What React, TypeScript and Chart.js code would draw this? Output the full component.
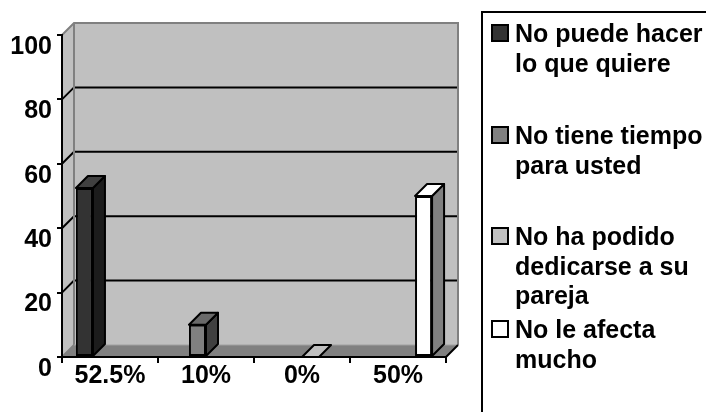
import React, { useEffect, useRef } from "react";
import { Chart, registerables } from "chart.js";

Chart.register(...registerables);

// Category labels along the x axis
const categories = ["52.5%", "10%", "0%", "50%"];

// Legend entries, already broken into lines
const seriesNames: string[][] = [
  ["No puede hacer", "lo que quiere"],
  ["No tiene tiempo", "para usted"],
  ["No ha podido", "dedicarse a su", "pareja"],
  ["No le afecta", "mucho"],
];

// One value per series, each in its own category slot
const seriesA = [52.5, null, null, null];
const seriesB = [null, 10, null, null];
const seriesC = [null, null, 0, null];
const seriesD = [null, null, null, 50];

// Value axis
const yMin = 0;
const yMax = 100;
const yStep = 20;

const FONT = "'Liberation Sans', Arial, Helvetica, sans-serif";
const DX = 12;
const DY = -12;

const faceColors = [
  { front: "#333333", top: "#404040", side: "#1c1c1c" },
  { front: "#808080", top: "#6a6a6a", side: "#404040" },
  { front: "#c0c0c0", top: "#c0c0c0", side: "#808080" },
  { front: "#ffffff", top: "#ffffff", side: "#808080" },
];

type Pt = [number, number];

function poly(ctx: CanvasRenderingContext2D, pts: Pt[], fill?: string, stroke?: string, lw = 2) {
  ctx.beginPath();
  ctx.moveTo(pts[0][0], pts[0][1]);
  for (let i = 1; i < pts.length; i++) ctx.lineTo(pts[i][0], pts[i][1]);
  ctx.closePath();
  if (fill) {
    ctx.fillStyle = fill;
    ctx.fill();
  }
  if (stroke) {
    ctx.strokeStyle = stroke;
    ctx.lineWidth = lw;
    ctx.lineJoin = "round";
    ctx.stroke();
  }
}

function seg(ctx: CanvasRenderingContext2D, pts: Pt[], color: string, lw = 2) {
  ctx.beginPath();
  ctx.moveTo(pts[0][0], pts[0][1]);
  for (let i = 1; i < pts.length; i++) ctx.lineTo(pts[i][0], pts[i][1]);
  ctx.strokeStyle = color;
  ctx.lineWidth = lw;
  ctx.lineJoin = "miter";
  ctx.stroke();
}

// Back wall, side wall, floor and the receding grid lines
const wallsPlugin = {
  id: "walls3d",
  beforeDraw(chart: any) {
    const { ctx, chartArea: a, scales } = chart;
    const ys = scales.y;
    ctx.save();
    // side wall
    poly(ctx, [[a.left, a.top], [a.left + DX, a.top + DY], [a.left + DX, a.bottom + DY], [a.left, a.bottom]], "#c0c0c0");
    // back wall
    ctx.fillStyle = "#c0c0c0";
    ctx.fillRect(a.left + DX, a.top + DY, a.right - a.left, a.bottom - a.top);
    // floor
    poly(ctx, [[a.left, a.bottom], [a.left + DX, a.bottom + DY], [a.right + DX, a.bottom + DY], [a.right, a.bottom]], "#808080");

    // grid lines
    ys.ticks.forEach((t: any) => {
      if (t.value <= yMin || t.value >= yMax) return;
      const py = ys.getPixelForValue(t.value);
      seg(ctx, [[a.left, py], [a.left + DX, py + DY], [a.right + DX, py + DY]], "#000000");
    });

    // wall outlines
    seg(ctx, [[a.left, a.top], [a.left + DX, a.top + DY], [a.right + DX, a.top + DY], [a.right + DX, a.bottom + DY]], "#808080");
    seg(ctx, [[a.left + DX, a.top + DY], [a.left + DX, a.bottom + DY]], "#808080");
    seg(ctx, [[a.left, a.bottom], [a.left + DX, a.bottom + DY]], "#808080");
    seg(ctx, [[a.left + DX, a.bottom + DY], [a.right + DX, a.bottom + DY]], "#a0a0a0", 1);
    seg(ctx, [[a.right, a.bottom], [a.right + DX, a.bottom + DY]], "#000000");
    ctx.restore();
  },
};

// Top and side faces of each bar
const barsPlugin = {
  id: "bars3d",
  afterDatasetsDraw(chart: any) {
    const { ctx } = chart;
    ctx.save();
    chart.data.datasets.forEach((ds: any, i: number) => {
      const meta = chart.getDatasetMeta(i);
      if (meta.hidden) return;
      const col = faceColors[i];
      meta.data.forEach((el: any, j: number) => {
        if (ds.data[j] == null) return;
        const { x, y, base, width } = el.getProps(["x", "y", "base", "width"], true);
        const l = x - width / 2;
        const r = x + width / 2;
        const top = Math.min(y, base);
        const bottom = Math.max(y, base);
        if (bottom - top > 0.5) {
          poly(ctx, [[r, top], [r + DX, top + DY], [r + DX, bottom + DY], [r, bottom]], col.side, "#000000");
        }
        poly(ctx, [[l, top], [l + DX, top + DY], [r + DX, top + DY], [r, top]], col.top, "#000000");
      });
    });
    ctx.restore();
  },
};

// Framed legend with wrapped entries
const legendPlugin = {
  id: "boxLegend",
  afterDraw(chart: any, _args: any, opts: any) {
    const { ctx } = chart;
    ctx.save();
    ctx.strokeStyle = "#000000";
    ctx.lineWidth = 2;
    ctx.strokeRect(opts.left, opts.top, 400, 500);
    ctx.font = `bold ${opts.fontSize}px ${FONT}`;
    ctx.textBaseline = "alphabetic";
    ctx.textAlign = "left";
    seriesNames.forEach((lines, i) => {
      const b0 = opts.baselines[i];
      const s = opts.marker;
      ctx.fillStyle = faceColors[i].front;
      ctx.fillRect(opts.markerX, b0 - s, s, s);
      ctx.lineWidth = 2;
      ctx.strokeRect(opts.markerX + 1, b0 - s + 1, s - 2, s - 2);
      ctx.fillStyle = "#000000";
      lines.forEach((ln, k) => {
        ctx.fillText(ln, opts.textX, b0 + k * opts.lineHeight);
      });
    });
    ctx.restore();
  },
};

export default function App() {
  const ref = useRef<HTMLCanvasElement | null>(null);

  useEffect(() => {
    document.body.style.margin = "0";
    const canvas = ref.current;
    if (!canvas) return;
    const values = [seriesA, seriesB, seriesC, seriesD];
    const chart = new Chart(canvas, {
      type: "bar",
      data: {
        labels: categories,
        datasets: values.map((v, i) => ({
          label: seriesNames[i].join(" "),
          data: v,
          backgroundColor: faceColors[i].front,
          borderColor: "#000000",
          borderWidth: 2,
          borderSkipped: false,
          categoryPercentage: 0.71,
          barPercentage: 1.0,
        })),
      },
      options: {
        animation: false,
        responsive: false,
        maintainAspectRatio: false,
        devicePixelRatio: 1,
        layout: { padding: { left: 0, top: 35, right: 260, bottom: 0 } },
        plugins: {
          legend: { display: false },
          tooltip: { enabled: false },
          boxLegend: {
            left: 482,
            top: 12,
            markerX: 491,
            marker: 18,
            textX: 515,
            fontSize: 25,
            lineHeight: 29.5,
            baselines: [42, 144, 245, 338],
          },
        } as any,
        scales: {
          x: {
            type: "category",
            offset: true,
            grid: {
              offset: true,
              drawOnChartArea: false,
              tickLength: 6,
              color: "#000000",
              lineWidth: 2,
            },
            border: { color: "#000000", width: 2 },
            ticks: {
              color: "#000000",
              font: { family: FONT, size: 25, weight: "bold" },
              padding: -2,
              maxRotation: 0,
              autoSkip: false,
            },
            afterFit(scale: any) {
              scale.height = 55;
            },
          },
          y: {
            min: yMin,
            max: yMax,
            grid: {
              drawOnChartArea: false,
              tickLength: 5,
              color: "#000000",
              lineWidth: 2,
            },
            border: { color: "#000000", width: 2 },
            ticks: {
              stepSize: yStep,
              color: "#000000",
              font: { family: FONT, size: 25, weight: "bold" },
              padding: 5,
              labelOffset: 12,
            },
            afterFit(scale: any) {
              scale.width = 62;
            },
          },
        },
      },
      plugins: [wallsPlugin, barsPlugin, legendPlugin],
    });
    return () => chart.destroy();
  }, []);

  return <canvas ref={ref} width={706} height={412} style={{ display: "block" }} />;
}
